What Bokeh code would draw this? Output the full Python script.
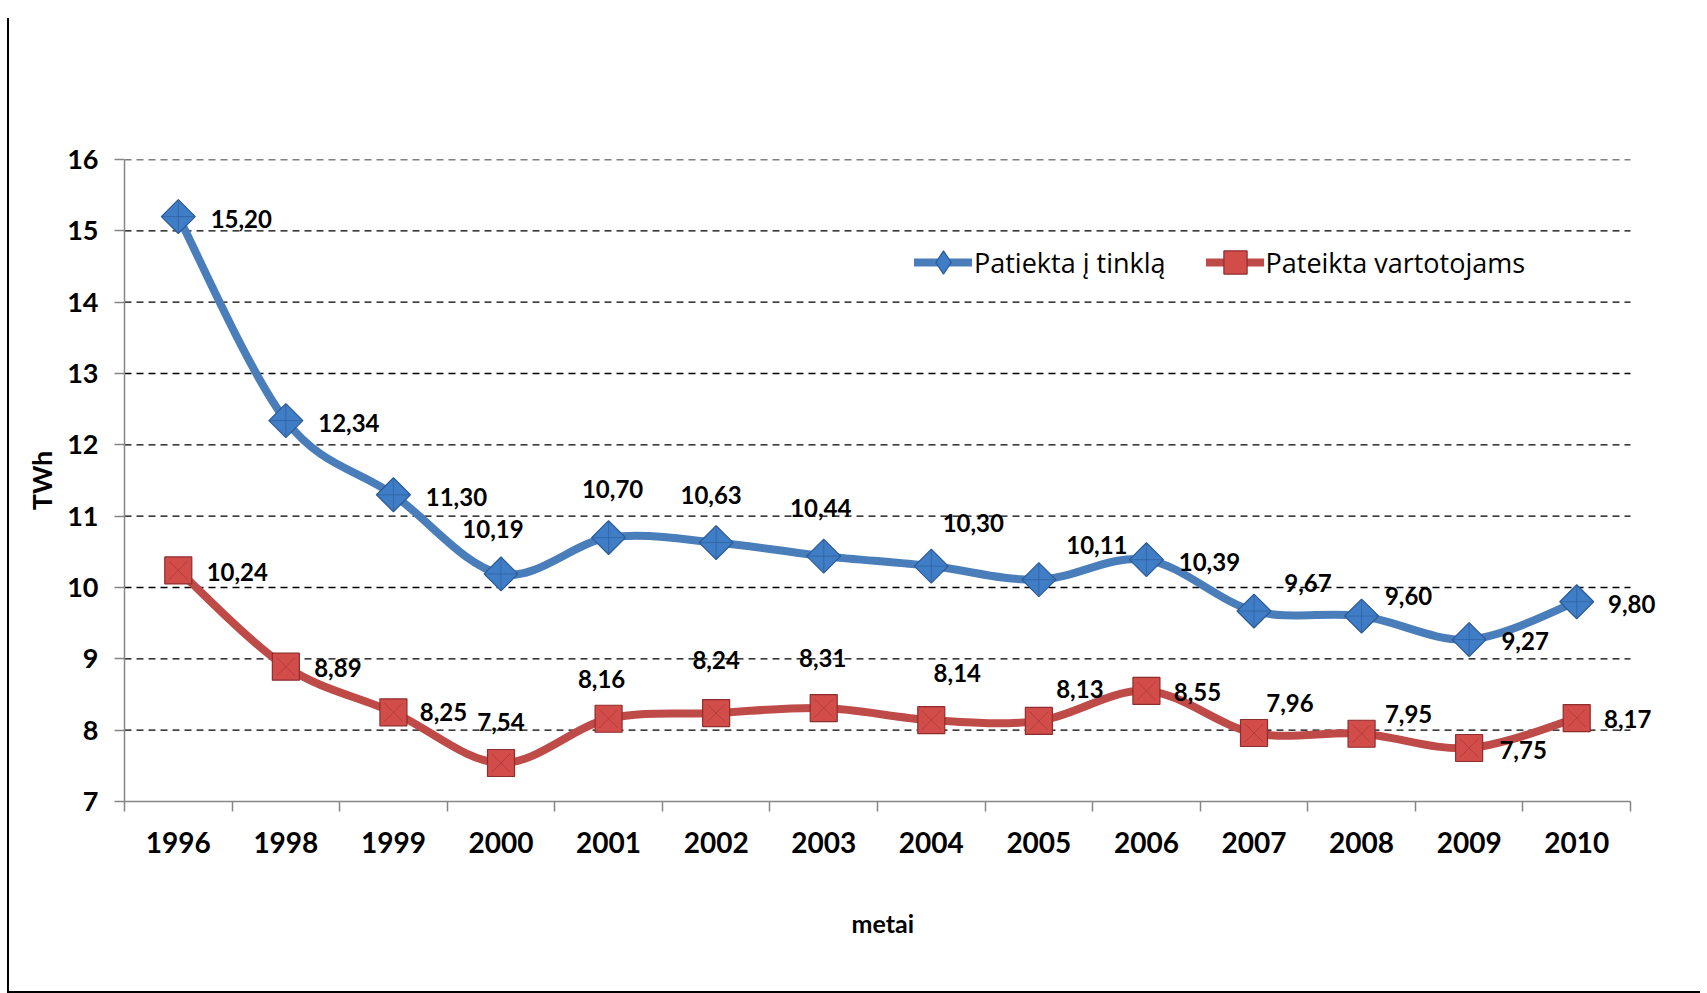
import math
from bokeh.plotting import figure
from bokeh.models import (ColumnDataSource, Range1d, FixedTicker, Legend, LegendItem,
                          Label, CDSView, IndexFilter, Title)
from bokeh.embed import file_html
from bokeh.resources import INLINE

# ---- data ----
years = ["1996", "1998", "1999", "2000", "2001", "2002", "2003",
         "2004", "2005", "2006", "2007", "2008", "2009", "2010"]
tinklas = [15.20, 12.34, 11.30, 10.19, 10.70, 10.63, 10.44,
           10.30, 10.11, 10.39, 9.67, 9.60, 9.27, 9.80]
vartotojai = [10.24, 8.89, 8.25, 7.54, 8.16, 8.24, 8.31,
              8.14, 8.13, 8.55, 7.96, 7.95, 7.75, 8.17]
y_ticks = [7, 8, 9, 10, 11, 12, 13, 14, 15, 16]
series_names = ["Patiekta į tinklą", "Pateikta vartotojams"]
y_title = "TWh"
x_title = "metai"

# ---- label placement (pixels, layout only; dy positive = up) ----
blue_dx = [63, 63, 63, -8, 4, -5, -3, 42, 58, 63, 54, 47, 56, 55]
blue_dy = [-2, -2, -2, 45, 49, 48, 48, 43, 35, -2, 28, 20, -1, -2]
red_dx = [59, 52, 50, 0, -7, 0, -1, 26, 41, 51, 36, 47, 54, 51]
red_dy = [-2, -1, 0, 41, 40, 53, 50, 47, 32, -1, 30, 20, -2, -1]

BLUE = "#4A7EBB"
RED = "#BE4B48"
FONT = "Lato"
AXIS_GREY = "#868686"

n = len(years)
xs = [i + 0.5 for i in range(n)]


def fmt(v):
    return f"{v:.2f}".replace(".", ",")


def smooth_segments(xv, yv, t=1.0 / 6.0):
    seg = {k: [] for k in ("x0", "y0", "x1", "y1", "cx0", "cy0", "cx1", "cy1")}
    m = len(xv)
    for i in range(m - 1):
        xp, yp = (xv[i - 1], yv[i - 1]) if i > 0 else (xv[i], yv[i])
        xn, yn = (xv[i + 2], yv[i + 2]) if i + 2 < m else (xv[i + 1], yv[i + 1])
        seg["x0"].append(xv[i]); seg["y0"].append(yv[i])
        seg["x1"].append(xv[i + 1]); seg["y1"].append(yv[i + 1])
        seg["cx0"].append(xv[i] + (xv[i + 1] - xp) * t)
        seg["cy0"].append(yv[i] + (yv[i + 1] - yp) * t)
        seg["cx1"].append(xv[i + 1] - (xn - xv[i]) * t)
        seg["cy1"].append(yv[i + 1] - (yn - yv[i]) * t)
    return ColumnDataSource(seg)


W, H = 1700, 993
FL, FT, FR, FB = 124, 159, 1630, 801       # visible plot-area box (pixels)
px_per_cat = (FR - FL) / n
x_end = (W - FL) / px_per_cat              # frame runs to the right edge so labels are not cut

p = figure(width=W, height=H, output_backend="svg", toolbar_location=None,
           x_range=Range1d(0, x_end), y_range=Range1d(7, 16),
           min_border_left=FL, min_border_right=0, min_border_top=FT,
           min_border_bottom=H - FB)
p.outline_line_color = None
p.background_fill_alpha = 0
p.border_fill_alpha = 0
# outer frame lines (left and bottom) drawn as the page background
p.styles = {
    "background": ("linear-gradient(#000, #000) 7px 18px / 2px 975px no-repeat, "
                   "linear-gradient(#000, #000) 7px 991px / 1693px 2px no-repeat, "
                   "#ffffff"),
}

# grid: dashed lines across the category span only
p.xgrid.visible = False
p.ygrid.visible = False
grid_src = ColumnDataSource(dict(y=y_ticks[1:], x0=[0] * (len(y_ticks) - 1),
                                 x1=[n] * (len(y_ticks) - 1)))
p.segment(x0="x0", y0="y", x1="x1", y1="y", source=grid_src, line_color="black",
          line_dash="7 5", line_width=1.3)

# y axis
ya = p.yaxis[0]
ya.ticker = FixedTicker(ticks=y_ticks)
ya.axis_line_color = AXIS_GREY
ya.axis_line_width = 1.5
ya.major_tick_line_color = AXIS_GREY
ya.major_tick_line_width = 1.5
ya.major_tick_out = 10
ya.major_tick_in = 0
ya.minor_tick_line_color = None
ya.major_label_text_font = FONT
ya.major_label_text_font_style = "bold"
ya.major_label_text_font_size = "27px"
ya.major_label_text_color = "black"
ya.major_label_standoff = 16
ya.axis_label = y_title
ya.axis_label_text_font = FONT
ya.axis_label_text_font_style = "bold"
ya.axis_label_text_font_size = "27px"
ya.axis_label_text_color = "black"
ya.axis_label_standoff = 6

# x axis
xa = p.xaxis[0]
xa.bounds = (0, n)
xa.ticker = FixedTicker(ticks=xs, minor_ticks=list(range(n + 1)))
xa.major_label_overrides = {x: y for x, y in zip(xs, years)}
xa.axis_line_color = AXIS_GREY
xa.axis_line_width = 1.5
xa.major_tick_line_color = None
xa.major_tick_out = 10
xa.major_tick_in = 0
xa.minor_tick_line_color = AXIS_GREY
xa.minor_tick_line_width = 1.5
xa.minor_tick_out = 10
xa.minor_tick_in = 0
xa.major_label_text_font = FONT
xa.major_label_text_font_style = "bold"
xa.major_label_text_font_size = "28px"
xa.major_label_text_color = "black"
xa.major_label_standoff = 20

# x axis title, centred under the category span
p.add_layout(Title(text=x_title, align="left", offset=727, standoff=100,
                   text_font=FONT, text_font_style="bold", text_font_size="25px",
                   text_color="black"), "below")

# smoothed lines
seg_b = smooth_segments(xs, tinklas)
seg_r = smooth_segments(xs, vartotojai)
lb = p.bezier(x0="x0", y0="y0", x1="x1", y1="y1", cx0="cx0", cy0="cy0",
              cx1="cx1", cy1="cy1", source=seg_b, line_color=BLUE, line_width=8,
              line_cap="round")
lr = p.bezier(x0="x0", y0="y0", x1="x1", y1="y1", cx0="cx0", cy0="cy0",
              cx1="cx1", cy1="cy1", source=seg_r, line_color=RED, line_width=8,
              line_cap="round")

src = ColumnDataSource(dict(x=xs, b=tinklas, r=vartotojai))

# legend-only diamond: one copy hidden underneath the first plotted marker
mb_leg = p.scatter("x", "b", source=src, view=CDSView(filter=IndexFilter([0])),
                   marker="diamond", size=24, fill_color="#3F7DC6",
                   line_color="#2B5A94", line_width=1.2)

# markers
p.scatter("x", "b", source=src, marker="square", angle=math.pi / 4, size=24,
          fill_color="#3F7DC6", line_color="#2B5A94", line_width=1.2)
p.scatter("x", "b", source=src, marker="cross", size=32, line_color="#2E5F9C",
          line_width=1, line_alpha=0.7)
mr = p.scatter("x", "r", source=src, marker="square", size=27,
               fill_color="#D24D4A", line_color="#8E2E2C", line_width=1.2)
p.scatter("x", "r", source=src, marker="x", size=26, line_color="#A53634",
          line_width=1, line_alpha=0.7)

# data labels
common = dict(text_font=FONT, text_font_style="bold", text_font_size="24px",
              text_color="black", text_align="center", text_baseline="middle")
for xv, v, dx, dy in zip(xs, tinklas, blue_dx, blue_dy):
    p.add_layout(Label(x=xv, y=v, text=fmt(v), x_offset=dx, y_offset=dy, **common))
for xv, v, dx, dy in zip(xs, vartotojai, red_dx, red_dy):
    p.add_layout(Label(x=xv, y=v, text=fmt(v), x_offset=dx, y_offset=dy, **common))

# legend
legend = Legend(items=[LegendItem(label=series_names[0], renderers=[lb, mb_leg]),
                       LegendItem(label=series_names[1], renderers=[lr, mr])],
                orientation="horizontal", location=(790, 509),
                glyph_width=58, glyph_height=60, label_standoff=2, spacing=40,
                padding=0, margin=0, border_line_color=None,
                background_fill_alpha=0,
                label_text_font="Open Sans", label_text_font_size="27px",
                label_text_color="black")
p.add_layout(legend)

open("out.html", "w").write(file_html(p, INLINE))
